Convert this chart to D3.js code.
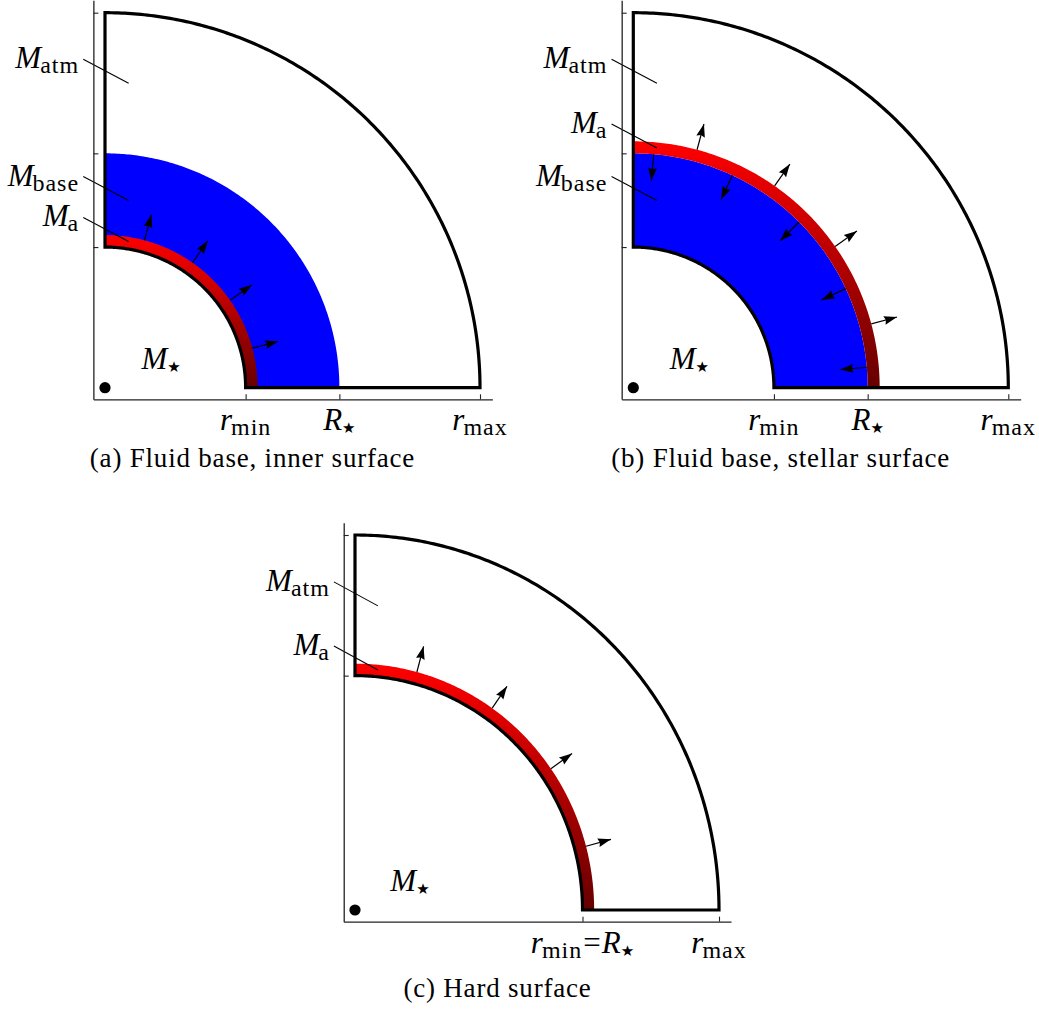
<!DOCTYPE html>
<html>
<head>
<meta charset="utf-8">
<script src="https://cdn.jsdelivr.net/npm/d3@7"></script>
<style>
  body { margin: 0; background: #fff; }
</style>
</head>
<body>
<svg id="fig" width="1039" height="1011"></svg>
<script>
// ---- model: radii in units of r_max --------------------------------------
const captions   = ["(a) Fluid base, inner surface", "(b) Fluid base, stellar surface", "(c) Hard surface"];
const rMin       = [0.375, 0.375, 0.625];
const rStar      = [0.625, 0.625, 0.625];
const rMax       = [1.0, 1.0, 1.0];
const baseInner  = [0.375, 0.375, null];   // fluid base (blue), none for hard surface
const baseOuter  = [0.625, 0.625, null];
const layerInner = [0.375, 0.625, 0.625];  // accreted layer (red)
const layerThickness = 0.032;
const outwardAngles = [[75, 55, 35, 15], [75, 55, 35, 15], [75, 55, 35, 15]];
const inwardAngles  = [[], [85, 65, 45, 25, 5], []];
const arrowLength = 0.071;
const xTickValues = [[0.375, 0.625, 1.0], [0.375, 0.625, 1.0], [0.625, 1.0]];
const xTickLabels = [["r_{min}", "R_*", "r_{max}"], ["r_{min}", "R_*", "r_{max}"], ["r_{min}=R_*", "r_{max}"]];
const yTickValues = [[0.375, 0.625, 1.0], [0.375, 0.625, 1.0], [0.625, 1.0]];
const regionLabels  = [["M_{atm}", "M_{base}", "M_{a}"], ["M_{atm}", "M_{a}", "M_{base}"], ["M_{atm}", "M_{a}"]];
const regionLabelAt = [[0.876, 0.563, 0.454], [0.876, 0.703, 0.563], [0.875, 0.704]];
const starLabel = "M_*";
const axisLo = -0.031, axisHi = 1.033;

// ---- layout of the three panels -----------------------------------------
const frames = [
  { cx: 105,   cy: 387.7, kx: 375, ky: 375, capX: 252.5, capY: 467 },
  { cx: 633.3, cy: 387.7, kx: 375, ky: 375, capX: 780.7, capY: 467 },
  { cx: 355,   cy: 910,   kx: 364, ky: 375, capX: 497.5, capY: 997 }
];
const SERIF = "Liberation Serif";

const svg = d3.select("#fig");
const defs = svg.append("defs");
defs.append("marker")
  .attr("id", "head").attr("viewBox", "-14 -7 14 14")
  .attr("refX", 0).attr("refY", 0)
  .attr("markerWidth", 14).attr("markerHeight", 14)
  .attr("markerUnits", "userSpaceOnUse").attr("orient", "auto")
  .append("path").attr("d", "M0,0L-13,-4.4L-11.5,0L-13,4.4Z").attr("fill", "#000");

// math-ish text: italic symbols, upright subscripts, star subscript
function renderMath(sel, src, size) {
  const sub = Math.round(size * 0.77), shift = 5;
  const re = /([A-Za-z])(?:_(?:\{([^}]*)\}|(\*)))?|(=)/g;
  let m, cur = 0;
  sel.attr("font-family", SERIF).attr("fill", "#000");
  while ((m = re.exec(src))) {
    if (m[4]) {
      sel.append("tspan").attr("dy", -cur).attr("dx", 1)
        .attr("font-family", SERIF).attr("font-style", "normal")
        .attr("font-size", size).text("=");
      cur = 0; continue;
    }
    sel.append("tspan").attr("dy", -cur).attr("dx", m.index ? 1 : 0)
      .attr("font-family", SERIF).attr("font-style", "italic")
      .attr("font-size", size).text(m[1]);
    cur = 0;
    if (m[2]) {
      sel.append("tspan").attr("dy", shift).attr("dx", -1)
        .attr("font-family", SERIF).attr("font-style", "normal")
        .attr("font-size", sub).attr("letter-spacing", 1).text(m[2]);
      cur = shift;
    } else if (m[3]) {
      sel.append("tspan").attr("dy", 3).attr("dx", 0)
        .attr("font-family", "DejaVu Sans").attr("font-style", "normal")
        .attr("font-size", 15).text("\u2605");
      cur = 3;
    }
  }
}

// polygon of an annular sector between radii r0..r1 over 0..90 degrees
function sectorPoints(r0, r1) {
  const th = d3.range(0, 90.01, 0.5).map(d => d * Math.PI / 180);
  return th.map(t => [r1 * Math.cos(t), r1 * Math.sin(t)])
    .concat(th.slice().reverse().map(t => [r0 * Math.cos(t), r0 * Math.sin(t)]));
}

frames.forEach((f, i) => {
  const x = d3.scaleLinear().domain([axisLo, axisHi]).range([f.cx + axisLo * f.kx, f.cx + axisHi * f.kx]);
  const y = d3.scaleLinear().domain([axisLo, axisHi]).range([f.cy - axisLo * f.ky, f.cy - axisHi * f.ky]);
  const line = d3.line().x(d => x(d[0])).y(d => y(d[1]));
  const g = svg.append("g");

  // fluid base
  if (baseInner[i] !== null) {
    g.append("path").attr("d", line(sectorPoints(baseInner[i], baseOuter[i])) + "Z")
      .attr("fill", "#0000ff");
  }

  // accreted layer, shaded from bright red (pole) to dark red (equator)
  const lo = layerInner[i], hi = lo + layerThickness;
  const grad = defs.append("linearGradient").attr("id", "layer" + i)
    .attr("gradientUnits", "userSpaceOnUse")
    .attr("x1", x(0)).attr("x2", x(0)).attr("y1", y(0)).attr("y2", y(hi));
  grad.append("stop").attr("offset", 0).attr("stop-color", "#660000");
  grad.append("stop").attr("offset", 1).attr("stop-color", "#ff0000");
  g.append("path").attr("d", line(sectorPoints(lo, hi)) + "Z")
    .attr("fill", `url(#layer${i})`);

  // domain outline
  g.append("path").attr("d", line(sectorPoints(rMin[i], rMax[i])) + "Z")
    .attr("fill", "none").attr("stroke", "#000").attr("stroke-width", 3.2)
    .attr("stroke-linejoin", "miter");

  // flux arrows
  const arrows = outwardAngles[i].map(a => ({ a, r0: hi, r1: hi + arrowLength }))
    .concat(inwardAngles[i].map(a => ({ a, r0: rStar[i], r1: rStar[i] - arrowLength })));
  g.selectAll(null).data(arrows).join("line")
    .attr("x1", d => x(d.r0 * Math.cos(d.a * Math.PI / 180)))
    .attr("y1", d => y(d.r0 * Math.sin(d.a * Math.PI / 180)))
    .attr("x2", d => x(d.r1 * Math.cos(d.a * Math.PI / 180)))
    .attr("y2", d => y(d.r1 * Math.sin(d.a * Math.PI / 180)))
    .attr("stroke", "#000").attr("stroke-width", 1.2)
    .attr("marker-end", "url(#head)");

  // region labels with leader lines
  regionLabels[i].forEach((lab, k) => {
    const h = regionLabelAt[i][k];
    g.append("line")
      .attr("x1", x(-0.058)).attr("y1", y(h))
      .attr("x2", x(0.063)).attr("y2", y(h - 0.064))
      .attr("stroke", "#000").attr("stroke-width", 1.1);
    const t = g.append("text").attr("x", x(-0.069)).attr("y", y(h) + 9)
      .attr("text-anchor", "end");
    renderMath(t, lab, 31);
  });

  // central mass
  renderMath(g.append("text").attr("x", x(0.097)).attr("y", y(0.05)), starLabel, 31);
  g.append("circle").attr("cx", x(0)).attr("cy", y(0)).attr("r", 5.6).attr("fill", "#000");

  // axes with inward ticks
  const gx = g.append("g").attr("transform", `translate(0,${y(axisLo)})`)
    .call(d3.axisBottom(x).tickValues(xTickValues[i]).tickSizeInner(-5).tickSizeOuter(0).tickFormat(""));
  const gy = g.append("g").attr("transform", `translate(${x(axisLo)},0)`)
    .call(d3.axisLeft(y).tickValues(yTickValues[i]).tickSizeInner(-5).tickSizeOuter(0).tickFormat(""));
  [gx, gy].forEach(a => {
    a.select(".domain").attr("stroke", "#222").attr("stroke-width", 1.3);
    a.selectAll(".tick line").attr("stroke", "#222").attr("stroke-width", 1.1);
  });

  // tick labels
  xTickValues[i].forEach((v, k) => {
    const t = g.append("text").attr("x", x(v)).attr("y", y(axisLo) + 31)
      .attr("text-anchor", "middle");
    renderMath(t, xTickLabels[i][k], 31);
  });

  // caption
  g.append("text").attr("x", f.capX).attr("y", f.capY)
    .attr("text-anchor", "middle").attr("font-family", SERIF).attr("fill", "#000")
    .attr("font-size", 27).attr("letter-spacing", 0.8).text(captions[i]);
});
</script>
</body>
</html>
